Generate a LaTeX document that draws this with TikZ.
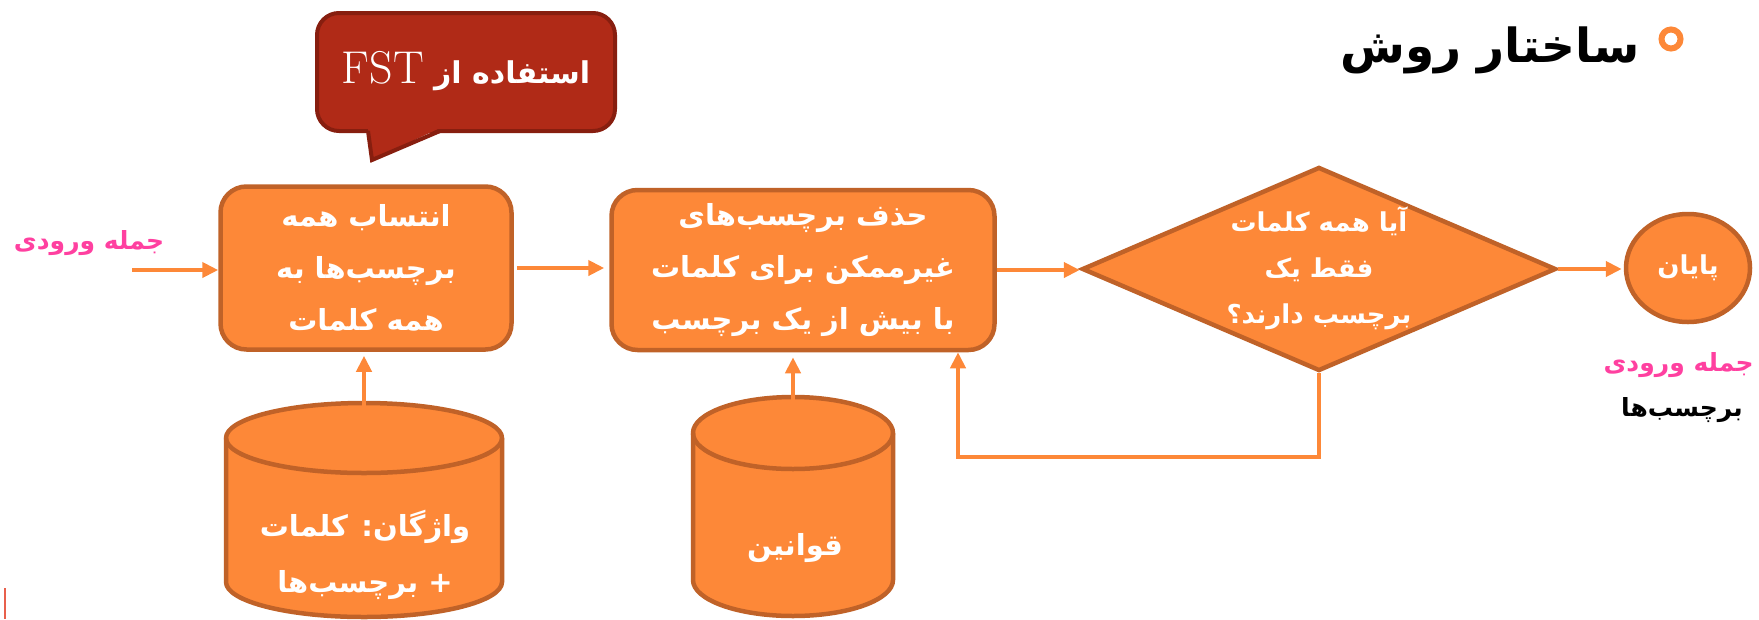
\documentclass[tikz,border=0pt]{standalone}
\usepackage{fontspec}
\usetikzlibrary{arrows.meta,shapes.geometric}
\TeXXeTstate=1
\newfontfamily\fa[Script=Arabic]{DejaVu Sans}
\definecolor{boxfill}{RGB}{253,136,56}
\definecolor{boxline}{RGB}{192,98,40}
\definecolor{flowcol}{RGB}{253,136,56}
\definecolor{bubblefill}{RGB}{176,42,23}
\definecolor{bubbleline}{RGB}{135,30,15}
\definecolor{inpink}{RGB}{255,64,160}
\definecolor{edgered}{RGB}{232,96,76}
\tikzset{
  procbox/.style={draw=boxline, fill=boxfill, line width=4.5pt, rounded corners=26pt,
    text=white, align=center, inner sep=0pt,
    font=\fa\bfseries\fontsize{29}{52}\selectfont},
  decbox/.style={diamond, draw=boxline, fill=boxfill, line width=4.5pt, inner sep=0pt},
  endbox/.style={ellipse, draw=boxline, fill=boxfill, line width=4.5pt, inner sep=0pt,
    text=white, font=\fa\bfseries\fontsize{26}{40}\selectfont},
  cylbody/.style={draw=boxline, fill=boxfill, line width=4.5pt},
  cylrim/.style={draw=boxline, line width=4.5pt},
  cyltext/.style={text=white, align=center, font=\fa\bfseries\fontsize{29}{56}\selectfont},
  flow/.style={draw=flowcol, line width=4.5pt, -{Triangle[length=16pt,width=15pt]}},
  lbl/.style={font=\fa\bfseries\fontsize{25}{40}\selectfont},
}
\begin{document}
\begin{tikzpicture}[x=1pt,y=-1pt]
\useasboundingbox (0,0) rectangle (1759,619);

% heading with its bullet ring
\node[anchor=east, font=\fa\bfseries\fontsize{47}{60}\selectfont] (title) at (1643,50) {\beginR ساختار روش\endR};
\draw[draw=boxfill, line width=6pt] (1671,39) circle[radius=9.5pt];

% speech bubble
\node[draw=bubbleline, fill=bubblefill, line width=4pt, rounded corners=22pt,
      minimum width=298pt, minimum height=118pt] (bubble) at (466,72) {};
\fill[bubblefill] (368,128) -- (372,160) -- (440,128) -- cycle;
\draw[draw=bubbleline, line width=4pt, line join=miter] (368,131) -- (372,160) -- (440,131);
\node[text=white, font=\fa\bfseries\fontsize{30}{40}\selectfont] (bubbletext) at (466,71)
  {\beginR استفاده از {\rmfamily\mdseries\fontsize{46}{50}\selectfont\beginL FST\endL}\endR};

% process boxes
\node[procbox, minimum width=291pt, minimum height=163pt] (box1) at (366,268)
  {\beginR انتساب همه\endR\\\beginR برچسب‌ها به\endR\\\beginR همه کلمات\endR};
\node[procbox, minimum width=383pt, minimum height=160pt] (box2) at (803,270)
  {\beginR حذف برچسب‌های\endR\\\beginR غیرممکن برای کلمات\endR\\\beginR با بیش از یک برچسب\endR};

% decision
\node[decbox, minimum width=474pt, minimum height=204pt] (dec) at (1319,269) {};
\node[text=white, align=center, font=\fa\bfseries\fontsize{26}{46}\selectfont] (dectext) at (1319,268)
  {\beginR آیا همه کلمات\endR\\\beginR فقط یک\endR\\\beginR برچسب دارند؟\endR};

% end
\node[endbox, minimum width=124pt, minimum height=108pt] (end) at (1688,268) {\beginR پایان\endR};

% data stores
\path[cylbody] (226,438) -- (226,582)
  arc[start angle=180, end angle=360, x radius=138pt, y radius=35pt] -- (502,438)
  arc[start angle=0, end angle=180, x radius=138pt, y radius=35pt] -- cycle;
\draw[cylrim] (226,438) arc[start angle=180, end angle=360, x radius=138pt, y radius=35pt];
\node[cyltext] (lex) at (365,555) {\beginR واژگان: کلمات\endR\\\beginR + برچسب‌ها\endR};
\coordinate (lextop) at (364,442);

\path[cylbody] (693,433) -- (693,580)
  arc[start angle=180, end angle=360, x radius=100pt, y radius=36pt] -- (893,433)
  arc[start angle=0, end angle=180, x radius=100pt, y radius=36pt] -- cycle;
\draw[cylrim] (693,433) arc[start angle=180, end angle=360, x radius=100pt, y radius=36pt];
\node[cyltext] (rules) at (795,548) {\beginR قوانین\endR};
\coordinate (rulestop) at (793,442);

% labels
\node[lbl, text=inpink] (inlabel) at (89,243) {\beginR جمله ورودی\endR};
\coordinate (instart) at (132,270);
\node[lbl, text=inpink, anchor=west] (outlabel1) at (1600,365) {\beginR جمله ورودی\endR};
\node[lbl, text=black] (outlabel2) at (1682,410) {\beginR برچسب‌ها\endR};

% connectors
\draw[flow] (instart) -- (instart -| box1.west);
\draw[flow, shorten <=3pt, shorten >=5pt] (box1.east) -- (box1.east -| box2.west);
\draw[flow] (box2.east) -- (box2.east -| dec.west);
\draw[flow, shorten >=2pt] (dec.east) -- (dec.east -| end.west);
\draw[flow, shorten >=4pt] (lextop) -- (lextop |- box1.south);
\draw[flow, shorten >=5pt] (rulestop) -- (rulestop |- box2.south);
\coordinate (loopcorner) at (958,457);
\draw[flow, line join=miter] (dec.south) -- (dec.south |- loopcorner) -- (loopcorner) -- (loopcorner |- box2.south);

% page edge mark
\draw[draw=edgered, line width=2.5pt] (5,588) -- (5,619);
\end{tikzpicture}
\end{document}
